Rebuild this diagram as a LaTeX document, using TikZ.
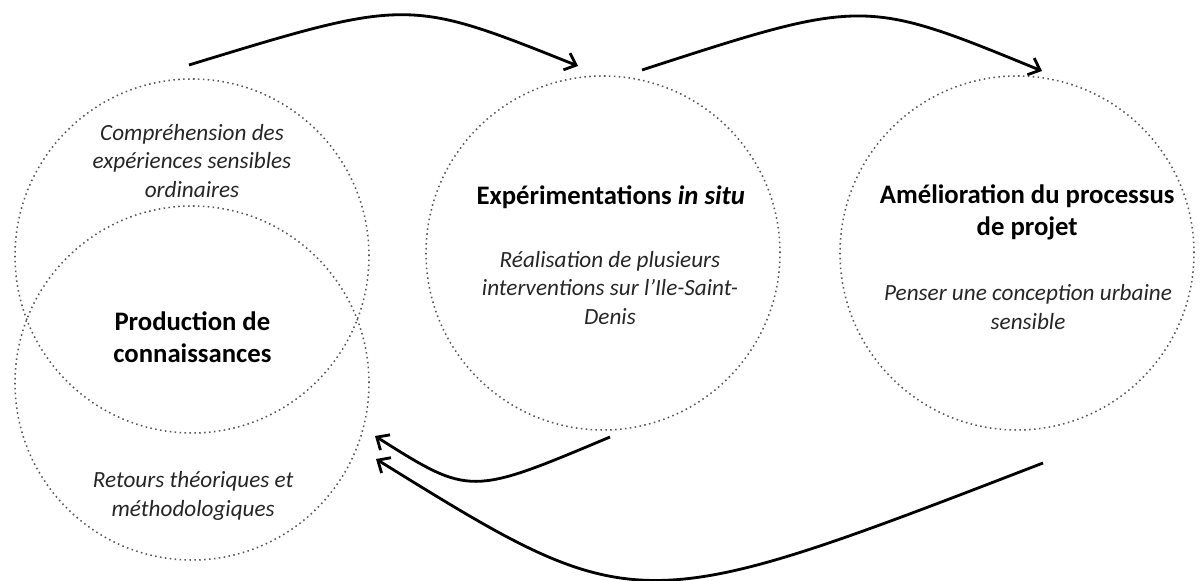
\documentclass[tikz,border=0pt]{standalone}
\usepackage{fontspec}
\setmainfont{Carlito}
\usetikzlibrary{arrows.meta}

\tikzset{
  cercle/.style={circle, draw=black!65, line width=1.1pt, dash pattern=on 1.1pt off 2.4pt, minimum size=8.85cm, inner sep=0pt},
  titre/.style={align=center, font=\fontsize{19}{22.8}\selectfont\bfseries},
  detail/.style={align=center, font=\fontsize{16.5}{20.3}\selectfont\itshape, text=black!85},
  fleche/.style={line width=2pt, -{Straight Barb[length=2.5mm, width=4.5mm]}},
}

\begin{document}
\begin{tikzpicture}
\useasboundingbox (0,0) rectangle (30.075,14.525);
% cercles
\node[cercle] (comprehension) at (4.8,8.125) {};
\node[cercle] (retours) at (4.8,4.95) {};
\node[cercle] (experimentation) at (15.075,8.2) {};
\node[cercle] (amelioration) at (25.425,8.2) {};
% textes
\node[detail] (txtcomp) at (4.8,10.5) {Compréhension des\\expériences sensibles\\ordinaires};
\node[titre] (txtprod) at (4.81,6.1) {Production de\\connaissances};
\node[detail] (txtretours) at (4.83,2.125) {Retours théoriques et\\méthodologiques};
\node[titre] (txtexp) at (15.27,9.6) {Expérimentations \textit{in situ}};
\node[detail] (txtreal) at (15.25,7.325) {Réalisation de plusieurs\\interventions sur l’Ile-Saint-\\Denis};
\node[titre] (txtamel) at (25.68,9.225) {Amélioration du processus\\de projet};
\node[detail] (txtpenser) at (25.7,6.85) {Penser une conception urbaine\\sensible};
% fleches
\coordinate (d1) at (4.725,12.9);
\coordinate (a1) at (14.45,12.875);
\coordinate (d2) at (16.05,12.775);
\coordinate (a2) at (26.05,12.75);
\coordinate (d3) at (15.25,3.6);
\coordinate (a3) at (9.375,3.625);
\coordinate (d4) at (26.075,2.95);
\coordinate (a4) at (9.4,3.05);
\draw[fleche] (d1) .. controls (10.2,14.575) .. (a1);
\draw[fleche] (d2) .. controls (21.6,14.575) .. (a2);
\draw[fleche] (d3) .. controls (11.75,2.125) .. (a3);
\draw[fleche] (d4) .. controls (15.9,-0.975) .. (a4);
\end{tikzpicture}
\end{document}
